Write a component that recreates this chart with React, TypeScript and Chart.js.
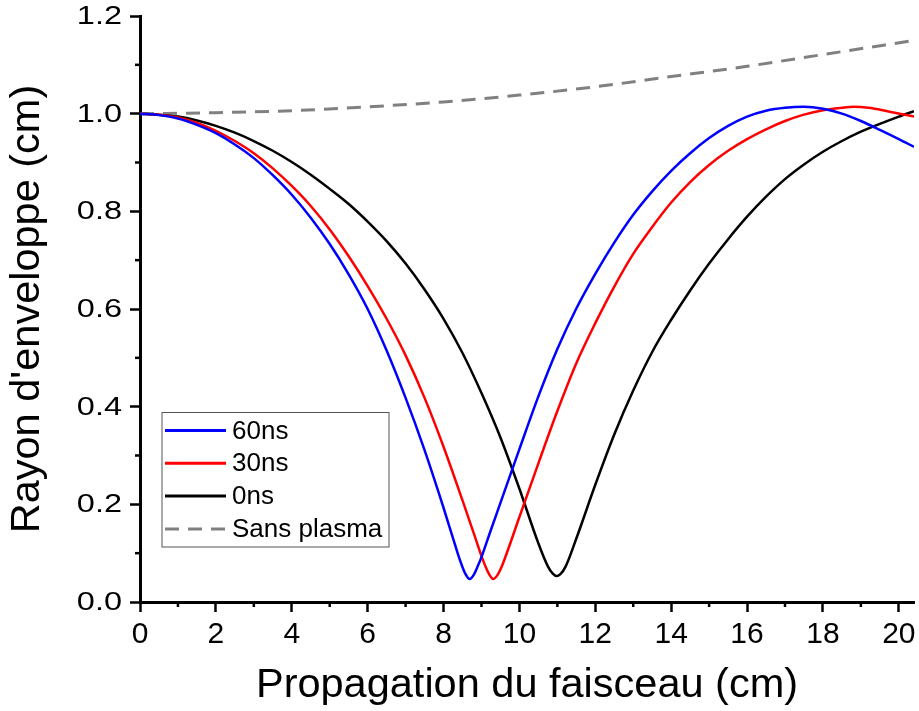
import React, { useEffect, useRef } from "react";
import { Chart, registerables } from "chart.js";

Chart.register(...registerables);

// ---- data ----
const xs60 = [0, 0.5, 1, 1.5, 2, 2.5, 3, 3.5, 4, 4.5, 5, 5.5, 6, 6.5, 7, 7.5, 8, 8.3, 8.45, 8.58, 8.69, 8.8, 8.9, 9, 9.25, 9.5, 10, 10.5, 11, 11.5, 12, 12.5, 13, 13.5, 14, 14.5, 15, 15.5, 16, 16.5, 17, 17.5, 18, 18.5, 19, 19.5, 20, 20.4];
const ys60 = [1.0, 0.997, 0.99, 0.977, 0.96, 0.937, 0.909, 0.874, 0.834, 0.787, 0.733, 0.671, 0.6, 0.515, 0.418, 0.311, 0.193, 0.118, 0.082, 0.057, 0.047, 0.056, 0.073, 0.092, 0.148, 0.203, 0.313, 0.421, 0.518, 0.601, 0.672, 0.736, 0.793, 0.841, 0.883, 0.919, 0.95, 0.975, 0.994, 1.006, 1.012, 1.014, 1.01, 1.0, 0.985, 0.967, 0.948, 0.932];

const xs30 = [0, 0.5, 1, 1.5, 2, 2.5, 3, 3.5, 4, 4.5, 5, 5.5, 6, 6.5, 7, 7.5, 8, 8.5, 8.8, 9, 9.1, 9.2, 9.31, 9.42, 9.52, 9.62, 10, 10.5, 11, 11.5, 12, 12.5, 13, 13.5, 14, 14.5, 15, 15.5, 16, 16.5, 17, 17.5, 18, 18.5, 18.8, 19.2, 19.7, 20.4];
const ys30 = [1.0, 0.998, 0.992, 0.981, 0.965, 0.944, 0.919, 0.888, 0.852, 0.811, 0.763, 0.708, 0.647, 0.58, 0.505, 0.418, 0.318, 0.208, 0.14, 0.094, 0.074, 0.057, 0.047, 0.055, 0.07, 0.09, 0.174, 0.284, 0.391, 0.489, 0.571, 0.646, 0.713, 0.768, 0.818, 0.86, 0.895, 0.924, 0.948, 0.968, 0.985, 0.998, 1.007, 1.012, 1.014, 1.012, 1.005, 0.994];

const xs0 = [0, 0.5, 1, 1.5, 2, 2.5, 3, 3.5, 4, 4.5, 5, 5.5, 6, 6.5, 7, 7.5, 8, 8.5, 9, 9.5, 10, 10.5, 10.75, 10.88, 10.98, 11.08, 11.22, 11.5, 12, 12.5, 13, 13.5, 14, 14.5, 15, 15.5, 16, 16.5, 17, 17.5, 18, 18.5, 19, 19.5, 20, 20.4];
const ys0 = [1.0, 0.998, 0.994, 0.986, 0.975, 0.961, 0.944, 0.924, 0.901, 0.875, 0.846, 0.815, 0.779, 0.739, 0.693, 0.64, 0.58, 0.51, 0.428, 0.337, 0.232, 0.12, 0.073, 0.058, 0.053, 0.057, 0.073, 0.13, 0.24, 0.343, 0.433, 0.512, 0.578, 0.638, 0.693, 0.743, 0.789, 0.83, 0.866, 0.896, 0.922, 0.944, 0.963, 0.979, 0.994, 1.005];

const xsRef = [0, 2, 4, 6, 8, 10, 12, 14, 16, 18, 20.4];
const ysRef = [1.0, 1.002, 1.006, 1.014, 1.024, 1.038, 1.055, 1.076, 1.097, 1.121, 1.15];

const seriesLabels = ["60ns", "30ns", "0ns", "Sans plasma"];
const seriesColors = ["#0000ff", "#ff0000", "#000000", "#808080"];

const xTitle = "Propagation du faisceau (cm)";
const yTitle = "Rayon d'enveloppe (cm)";

const FONT = "'Liberation Sans', Arial, sans-serif";

const zip = (xs: number[], ys: number[]) => xs.map((x, i) => ({ x, y: ys[i] }));

const minorTicksPlugin = {
  id: "minorTicks",
  afterDraw(chart: any) {
    const ctx = chart.ctx;
    ctx.save();
    ctx.strokeStyle = "#000";
    ctx.lineWidth = 2.5;
    const xs = chart.scales.x;
    const ys = chart.scales.y;
    const xt = xs.ticks.map((t: any) => t.value);
    for (let i = 0; i < xt.length; i++) {
      const v = i < xt.length - 1 ? (xt[i] + xt[i + 1]) / 2 : xt[i] + (xt[1] - xt[0]) / 2;
      if (v > xs.max) continue;
      const px = xs.getPixelForValue(v);
      ctx.beginPath();
      ctx.moveTo(px, xs.top);
      ctx.lineTo(px, xs.top + 5);
      ctx.stroke();
    }
    const yt = ys.ticks.map((t: any) => t.value);
    for (let i = 0; i < yt.length - 1; i++) {
      const v = (yt[i] + yt[i + 1]) / 2;
      const py = ys.getPixelForValue(v);
      ctx.beginPath();
      ctx.moveTo(ys.right, py);
      ctx.lineTo(ys.right - 5, py);
      ctx.stroke();
    }
    // y tick labels (horizontally widened like the reference)
    ctx.fillStyle = "#000";
    ctx.font = `25px ${FONT}`;
    ctx.textAlign = "right";
    ctx.textBaseline = "middle";
    ys.ticks.forEach((t: any) => {
      const py = ys.getPixelForValue(t.value);
      ctx.save();
      ctx.translate(ys.right - 18, py + 1);
      ctx.scale(1.3, 1);
      ctx.fillText(Number(t.value).toFixed(1), 0, 0);
      ctx.restore();
    });
    ctx.restore();
  },
};

const legendBoxPlugin = {
  id: "legendBox",
  afterDraw(chart: any) {
    const ctx = chart.ctx;
    const area = chart.chartArea;
    const left = area.left + 22;
    const top = 412.5;
    const w = 227;
    const h = 134.5;
    ctx.save();
    ctx.fillStyle = "#ffffff";
    ctx.fillRect(left, top, w, h);
    ctx.strokeStyle = "#555555";
    ctx.lineWidth = 1;
    ctx.strokeRect(left, top, w, h);
    ctx.font = `26px ${FONT}`;
    ctx.textBaseline = "middle";
    ctx.textAlign = "left";
    chart.data.datasets.forEach((ds: any, i: number) => {
      const yy = top + 18 + i * 32.8;
      ctx.beginPath();
      ctx.strokeStyle = ds.borderColor;
      ctx.lineWidth = 3;
      ctx.setLineDash(ds.borderDash || []);
      ctx.moveTo(left + 3, yy);
      ctx.lineTo(left + 64, yy);
      ctx.stroke();
      ctx.setLineDash([]);
      ctx.fillStyle = "#000";
      ctx.fillText(ds.label, left + 70, yy + 1);
    });
    ctx.restore();
  },
};

export default function App() {
  const ref = useRef<HTMLCanvasElement>(null);
  useEffect(() => {
    if (!ref.current) return;
    const chart = new Chart(ref.current, {
      type: "line",
      data: {
        datasets: [
          { label: seriesLabels[0], data: zip(xs60, ys60), borderColor: seriesColors[0], borderWidth: 2.5, pointRadius: 0, cubicInterpolationMode: "monotone" },
          { label: seriesLabels[1], data: zip(xs30, ys30), borderColor: seriesColors[1], borderWidth: 2.5, pointRadius: 0, cubicInterpolationMode: "monotone" },
          { label: seriesLabels[2], data: zip(xs0, ys0), borderColor: seriesColors[2], borderWidth: 2.5, pointRadius: 0, cubicInterpolationMode: "monotone" },
          { label: seriesLabels[3], data: zip(xsRef, ysRef), borderColor: seriesColors[3], borderWidth: 3, borderDash: [14, 9], pointRadius: 0, cubicInterpolationMode: "monotone" },
        ],
      } as any,
      options: {
        animation: false,
        responsive: true,
        maintainAspectRatio: false,
        layout: { padding: { top: 16, right: 5, left: 0, bottom: 0 } },
        plugins: { legend: { display: false }, tooltip: { enabled: false } },
        scales: {
          x: {
            type: "linear",
            min: 0,
            max: 20.4,
            border: { display: true, color: "#000", width: 3 },
            grid: { display: true, drawOnChartArea: false, drawTicks: true, tickLength: 10, tickColor: "#000", tickWidth: 2.5 },
            ticks: { stepSize: 2, includeBounds: false, color: "#000", font: { family: FONT, size: 30, lineHeight: 1 }, padding: 8, maxRotation: 0 },
            title: { display: true, text: xTitle, color: "#000", font: { family: FONT, size: 41.5, lineHeight: 1.2 }, padding: { top: 0, bottom: 1 } },
            afterFit: (s: any) => { s.height = 109; s.paddingLeft = 0; s.paddingRight = 0; },
          },
          y: {
            type: "linear",
            min: 0,
            max: 1.2,
            border: { display: true, color: "#000", width: 3 },
            grid: { display: true, drawOnChartArea: false, drawTicks: true, tickLength: 10, tickColor: "#000", tickWidth: 2.5 },
            ticks: { display: false, stepSize: 0.2 },
            title: { display: true, text: yTitle, color: "#000", font: { family: FONT, size: 41.5, lineHeight: 1.2 }, padding: { top: 3, bottom: 0 } },
            afterFit: (s: any) => { s.width = 140; s.paddingTop = 0; s.paddingBottom = 0; },
          },
        },
      } as any,
      plugins: [minorTicksPlugin, legendBoxPlugin],
    });
    return () => chart.destroy();
  }, []);
  return (
    <div style={{ position: "absolute", left: 0, top: 0, width: 919, height: 711, background: "#fff" }}>
      <canvas ref={ref} />
    </div>
  );
}
